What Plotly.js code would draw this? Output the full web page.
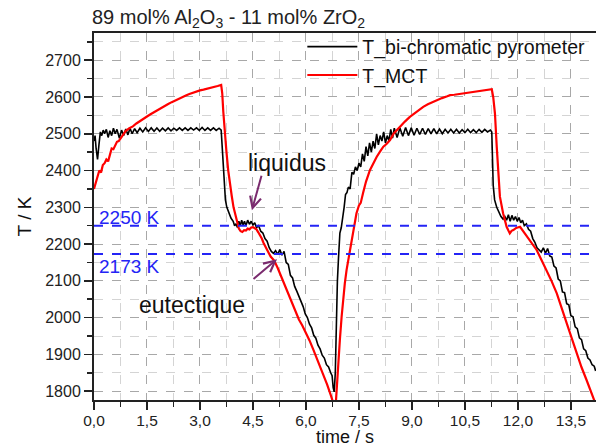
<!DOCTYPE html>
<html>
<head>
<meta charset="utf-8">
<script src="https://cdn.plot.ly/plotly-3.0.1.min.js"></script>
<style>html,body{margin:0;padding:0;background:#fff;}#chart{width:596px;height:447px;}</style>
</head>
<body>
<div id="chart"></div>
<script>
// time (s) and temperature (K) of the bi-chromatic pyrometer
const tPyro = [0.00,0.03,0.06,0.10,0.14,0.18,0.22,0.26,0.30,0.35,0.40,0.45,0.50,0.55,0.60,0.65,0.72,0.78,0.84,0.90,0.96,1.02,1.08,1.15,1.22,1.30,1.38,1.46,1.54,1.62,1.70,1.78,1.86,1.94,2.02,2.10,2.18,2.26,2.34,2.42,2.50,2.58,2.66,2.74,2.82,2.90,2.98,3.06,3.14,3.22,3.30,3.38,3.46,3.54,3.60,3.64,3.68,3.72,3.76,3.82,3.88,3.94,3.98,4.02,4.06,4.10,4.14,4.18,4.22,4.26,4.30,4.35,4.40,4.45,4.50,4.55,4.60,4.66,4.72,4.78,4.84,4.90,4.96,5.02,5.08,5.14,5.20,5.26,5.32,5.38,5.44,5.50,5.56,5.62,5.68,5.74,5.80,5.86,5.92,5.98,6.04,6.10,6.16,6.22,6.28,6.34,6.40,6.46,6.52,6.58,6.64,6.70,6.74,6.77,6.80,6.83,6.86,6.89,6.92,6.96,7.00,7.04,7.08,7.12,7.16,7.20,7.25,7.30,7.35,7.40,7.45,7.50,7.55,7.60,7.65,7.70,7.75,7.80,7.85,7.90,7.95,8.00,8.05,8.10,8.15,8.20,8.25,8.30,8.35,8.40,8.45,8.50,8.58,8.66,8.74,8.82,8.90,8.98,9.06,9.14,9.22,9.30,9.38,9.46,9.54,9.62,9.70,9.78,9.86,9.94,10.02,10.10,10.18,10.26,10.34,10.42,10.50,10.58,10.66,10.74,10.82,10.90,10.98,11.06,11.14,11.22,11.26,11.30,11.34,11.40,11.46,11.52,11.58,11.63,11.68,11.73,11.78,11.83,11.88,11.93,11.98,12.03,12.08,12.13,12.18,12.24,12.30,12.36,12.42,12.48,12.54,12.60,12.66,12.72,12.78,12.84,12.90,12.96,13.02,13.08,13.14,13.20,13.26,13.32,13.38,13.44,13.50,13.56,13.62,13.68,13.74,13.80,13.86,13.92,13.98,14.04,14.10,14.16,14.20];
const TPyro = [2480,2495,2460,2430,2470,2505,2495,2510,2500,2512,2490,2508,2495,2515,2500,2512,2488,2510,2495,2513,2497,2515,2500,2514,2503,2515,2505,2516,2506,2516,2507,2516,2507,2515,2508,2516,2508,2515,2509,2516,2509,2516,2509,2516,2510,2516,2509,2517,2509,2516,2509,2516,2509,2515,2510,2440,2360,2320,2300,2285,2270,2262,2250,2255,2245,2262,2250,2265,2252,2262,2250,2265,2254,2262,2252,2258,2245,2250,2235,2230,2215,2208,2190,2180,2175,2182,2172,2185,2170,2180,2150,2145,2115,2108,2085,2072,2058,2040,2030,2010,2000,1982,1972,1952,1944,1925,1915,1898,1890,1872,1866,1850,1842,1810,1798,1850,2000,2100,2160,2230,2245,2270,2300,2335,2340,2355,2350,2395,2390,2410,2400,2420,2410,2445,2425,2465,2440,2475,2450,2480,2460,2500,2470,2495,2480,2505,2475,2495,2480,2512,2488,2515,2490,2516,2493,2517,2495,2516,2496,2515,2498,2515,2498,2514,2500,2514,2500,2513,2500,2512,2502,2512,2502,2512,2502,2511,2503,2512,2503,2511,2503,2512,2504,2512,2505,2510,2505,2360,2320,2300,2285,2275,2268,2275,2265,2280,2262,2278,2265,2275,2262,2272,2258,2265,2250,2255,2240,2235,2215,2205,2190,2185,2178,2190,2175,2188,2168,2165,2140,2135,2105,2100,2070,2068,2038,2035,2005,2002,1975,1970,1945,1940,1915,1910,1890,1885,1872,1868,1855];

// time (s) and temperature (K) of the MCT
const tMct = [0.00,0.05,0.10,0.15,0.20,0.25,0.30,0.35,0.40,0.45,0.50,0.55,0.60,0.65,0.70,0.80,0.90,1.00,1.10,1.20,1.30,1.40,1.50,1.60,1.70,1.80,1.90,2.00,2.10,2.20,2.30,2.40,2.50,2.60,2.70,2.80,2.90,3.00,3.10,3.20,3.30,3.40,3.50,3.60,3.63,3.66,3.70,3.75,3.80,3.85,3.90,3.95,4.00,4.05,4.10,4.15,4.20,4.25,4.30,4.35,4.40,4.45,4.50,4.55,4.60,4.65,4.70,4.75,4.80,4.85,4.90,4.95,5.00,5.10,5.20,5.30,5.40,5.50,5.60,5.70,5.80,5.90,6.00,6.10,6.20,6.30,6.40,6.50,6.60,6.70,6.76,6.80,6.84,6.88,6.91,6.96,7.01,7.05,7.10,7.15,7.20,7.25,7.29,7.35,7.43,7.50,7.55,7.62,7.70,7.81,7.90,8.00,8.10,8.19,8.28,8.38,8.48,8.57,8.70,8.80,8.94,9.10,9.20,9.32,9.45,9.58,9.70,9.85,10.00,10.08,10.20,10.35,10.45,10.60,10.75,10.90,11.05,11.20,11.26,11.30,11.35,11.40,11.45,11.49,11.58,11.68,11.77,11.82,11.87,11.95,12.06,12.15,12.24,12.35,12.45,12.53,12.65,12.81,12.95,13.10,13.25,13.38,13.52,13.66,13.80,13.94,14.05,14.13,14.20];
const TMct = [2350,2365,2385,2400,2395,2415,2420,2430,2425,2445,2460,2458,2470,2478,2480,2495,2508,2515,2520,2528,2535,2541,2547,2553,2559,2565,2571,2576,2581,2586,2591,2596,2600,2604,2608,2612,2615,2618,2620,2622,2625,2627,2630,2633,2610,2560,2500,2450,2400,2360,2330,2300,2278,2258,2242,2235,2233,2238,2237,2242,2240,2245,2246,2243,2240,2232,2225,2215,2203,2192,2183,2175,2166,2155,2135,2112,2090,2068,2045,2022,1995,1978,1960,1938,1915,1892,1868,1845,1818,1790,1772,1760,1760,1830,1867,1940,2003,2050,2093,2130,2157,2185,2202,2240,2284,2305,2312,2340,2370,2401,2420,2437,2452,2465,2472,2483,2500,2510,2525,2533,2546,2558,2565,2573,2580,2586,2591,2597,2602,2605,2606,2608,2609,2611,2613,2616,2618,2620,2621,2600,2555,2465,2374,2329,2284,2247,2229,2236,2238,2244,2247,2235,2220,2205,2193,2184,2160,2130,2100,2066,2025,1985,1945,1903,1865,1831,1805,1785,1765];

// reference temperature levels (K)
const levels = [2250, 2173];
const levelLabels = ['2250 K', '2173 K'];
const seriesNames = ['T_bi-chromatic pyrometer', 'T_MCT'];

const FONT = 'Liberation Sans, Arial, sans-serif';
const BLUE = '#2424f5';
const PURPLE = '#7a2b6e';

const traces = [
  {x: tPyro, y: TPyro, type: 'scatter', mode: 'lines', name: seriesNames[0],
   line: {color: '#000000', width: 1.6}},
  {x: tMct, y: TMct, type: 'scatter', mode: 'lines', name: seriesNames[1],
   line: {color: '#ff0000', width: 2.2}}
];

const shapes = levels.map(v => ({
  type: 'line', xref: 'paper', x0: 0, x1: 1, yref: 'y', y0: v, y1: v,
  line: {color: BLUE, width: 2, dash: 'dash'}, layer: 'above'
}));

const annotations = [
  {x: 0.08, y: 2273, xref: 'x', yref: 'y', text: levelLabels[0], showarrow: false,
   xanchor: 'left', yanchor: 'middle', font: {family: FONT, size: 19, color: BLUE}},
  {x: 0.08, y: 2138, xref: 'x', yref: 'y', text: levelLabels[1], showarrow: false,
   xanchor: 'left', yanchor: 'middle', font: {family: FONT, size: 19, color: BLUE}},
  {x: 5.46, y: 2420, xref: 'x', yref: 'y', text: 'liquidus', showarrow: false,
   font: {family: FONT, size: 23, color: '#111'}},
  {x: 2.77, y: 2035, xref: 'x', yref: 'y', text: 'eutectique', showarrow: false,
   font: {family: FONT, size: 23, color: '#111'}},
  {x: 4.47, y: 2292, xref: 'x', yref: 'y', text: '', showarrow: true,
   ax: 10, ay: -36, arrowhead: 5, arrowsize: 1.1, arrowwidth: 2, arrowcolor: PURPLE, standoff: 0},
  {x: 5.18, y: 2159, xref: 'x', yref: 'y', text: '', showarrow: true,
   ax: -25, ay: 21, arrowhead: 5, arrowsize: 1.1, arrowwidth: 2, arrowcolor: PURPLE, standoff: 0}
];

const layout = {
  width: 596, height: 447,
  margin: {l: 94, r: 0, t: 33, b: 47},
  paper_bgcolor: '#ffffff', plot_bgcolor: '#ffffff',
  separators: ',.',
  font: {family: FONT, size: 16, color: '#222'},
  title: {text: '89 mol% Al<sub>2</sub>O<sub>3</sub> - 11 mol% ZrO<sub>2</sub>',
          x: 92/596, xref: 'container', xanchor: 'left', y: 1 - 17/447, yanchor: 'middle',
          font: {family: FONT, size: 20, color: '#222'}},
  showlegend: true,
  legend: {x: 0.415, y: 1.015, xanchor: 'left', yanchor: 'top', bgcolor: 'rgba(0,0,0,0)',
           font: {family: FONT, size: 19.5, color: '#111'}, itemwidth: 50, tracegroupgap: 0},
  xaxis: {
    range: [0, 14.21], tick0: 0, dtick: 1.5, tickformat: '.1f',
    ticks: 'outside', ticklen: 8, tickwidth: 1.5, tickcolor: '#222', ticklabelstandoff: -3,
    showline: true, linecolor: '#222', linewidth: 2, mirror: true,
    showgrid: true, gridcolor: '#a8a8a8', griddash: 'dash', gridwidth: 1, zeroline: false,
    minor: {dtick: 0.75, ticks: 'outside', ticklen: 5, tickcolor: '#222', showgrid: true, gridcolor: '#d4d4d4', griddash: 'dash'},
    tickfont: {family: FONT, size: 15.5, color: '#222'},
    title: {text: 'time / s', standoff: 0, font: {family: FONT, size: 18, color: '#111'}}
  },
  yaxis: {
    range: [1776, 2774], tick0: 1800, dtick: 100,
    ticks: 'outside', ticklen: 8, tickwidth: 1.5, tickcolor: '#222',
    showline: true, linecolor: '#222', linewidth: 2, mirror: true,
    showgrid: true, gridcolor: '#a8a8a8', griddash: 'dash', gridwidth: 1, zeroline: false,
    minor: {dtick: 50, ticks: 'outside', ticklen: 5, tickcolor: '#222', showgrid: true, gridcolor: '#d4d4d4', griddash: 'dash'},
    tickfont: {family: FONT, size: 16, color: '#222'},
    title: {text: 'T / K', standoff: 9, font: {family: FONT, size: 19, color: '#111'}}
  },
  shapes: shapes,
  annotations: annotations
};

Plotly.newPlot('chart', traces, layout, {staticPlot: true, displayModeBar: false});
</script>
</body>
</html>
